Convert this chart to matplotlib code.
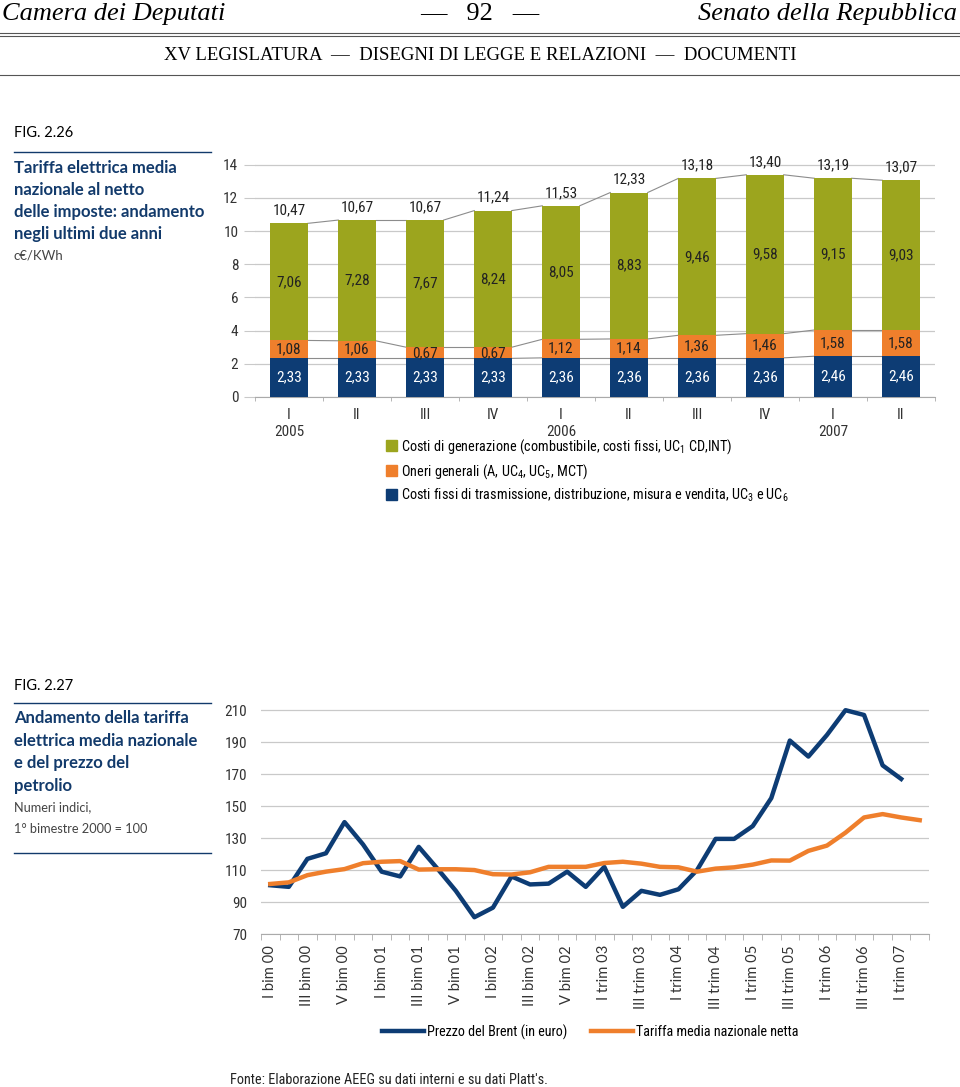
import numpy as np
import matplotlib
matplotlib.use("Agg")
import matplotlib.pyplot as plt
from matplotlib.lines import Line2D
from matplotlib.patches import Patch

# --- data: fig 2.26 (c€/KWh, stacked) ---
periods = ["I", "II", "III", "IV", "I", "II", "III", "IV", "I", "II"]
years = {0: "2005", 4: "2006", 8: "2007"}
trasmissione = [2.33, 2.33, 2.33, 2.33, 2.36, 2.36, 2.36, 2.36, 2.46, 2.46]
oneri = [1.08, 1.06, 0.67, 0.67, 1.12, 1.14, 1.36, 1.46, 1.58, 1.58]
generazione = [7.06, 7.28, 7.67, 8.24, 8.05, 8.83, 9.46, 9.58, 9.15, 9.03]
totali = [10.47, 10.67, 10.67, 11.24, 11.53, 12.33, 13.18, 13.40, 13.19, 13.07]

# --- data: fig 2.27 (numeri indici) ---
line_labels = ["I bim 00", "III bim 00", "V bim 00", "I bim 01", "III bim 01", "V bim 01",
               "I bim 02", "III bim 02", "V bim 02", "I trim 03", "III trim 03", "I trim 04",
               "III trim 04", "I trim 05", "III trim 05", "I trim 06", "III trim 06", "I trim 07"]
brent = [100.5, 99.5, 117, 120.5, 140, 126, 109, 106, 124.5, 111, 97, 80.5,
         86.5, 106, 101, 101.5, 109, 99.5, 112, 87, 97, 94.5, 98, 110,
         129.5, 129.5, 137.5, 155, 191, 181, 194.5, 210, 207, 175.5, 167]
tariffa = [101.3, 102.3, 106.8, 109, 110.6, 114.3, 115.2, 115.6, 110.3, 110.5, 110.5, 110,
           107.4, 107.2, 108.6, 112, 112, 112, 114.4, 115.2, 114, 112, 111.7, 109,
           110.9, 111.7, 113.4, 116, 115.9, 122, 125.3, 133.4, 142.9, 145, 142.9, 141.2]

GREEN = "#9ca51e"
ORANGE = "#ef7f2c"
NAVY = "#0d3c74"
TITLE = "#123a6b"
GRID = "#c9c9c9"

plt.rcParams["mathtext.default"] = "regular"
NARROW = ["Roboto Condensed", "DejaVu Sans Condensed", "Liberation Sans Narrow", "Roboto", "DejaVu Sans"]
SANS = ["Lato", "DejaVu Sans"]
SERIF = ["Liberation Serif", "DejaVu Serif"]

W, H = 960, 1087
fig = plt.figure(figsize=(W / 100, H / 100), dpi=100)


def fx(px):
    return px / W


def fy(py):
    return 1 - py / H


# ---------------- page header ----------------
fig.text(fx(2), fy(14), "Camera dei Deputati", family=SERIF, style="italic", fontsize=19, va="center")
fig.text(fx(480), fy(14), "—   92   —", family=SERIF, fontsize=19, va="center", ha="center")
fig.text(fx(957), fy(14), "Senato della Repubblica", family=SERIF, style="italic", fontsize=19,
         va="center", ha="right")
for yy in (33, 36):
    fig.add_artist(Line2D([0, 1], [fy(yy), fy(yy)], color="#555555", lw=0.8))
fig.text(fx(480), fy(56), "XV LEGISLATURA  —  DISEGNI DI LEGGE E RELAZIONI  —  DOCUMENTI",
         family=SERIF, fontsize=13.5, va="center", ha="center")
fig.add_artist(Line2D([0, 1], [fy(75), fy(75)], color="#555555", lw=0.8))

# ---------------- left column fig 2.26 ----------------
fig.text(fx(14), fy(133), "FIG. 2.26", family=SANS, fontsize=10.5, va="center")
fig.add_artist(Line2D([fx(14), fx(211)], [fy(152), fy(152)], color=TITLE, lw=1))
fig.text(fx(14), fy(160), "Tariffa elettrica media\nnazionale al netto\ndelle imposte: andamento\nnegli ultimi due anni",
         family=SANS, fontsize=12, fontweight="bold", color=TITLE, va="top", linespacing=1.45)
fig.text(fx(14), fy(256), "c€/KWh", family=SANS, fontsize=9.5, color="#444444", va="center")

# ---------------- bar chart ----------------
ax1 = fig.add_axes([fx(255), fy(397), fx(935) - fx(255), fy(164) - fy(397)])
x = np.arange(len(periods))
bw = 0.55
b1 = np.array(trasmissione)
b2 = b1 + np.array(oneri)
ax1.bar(x, trasmissione, bw, color=NAVY, zorder=3)
ax1.bar(x, oneri, bw, bottom=b1, color=ORANGE, zorder=3)
ax1.bar(x, generazione, bw, bottom=b2, color=GREEN, zorder=3)

# series lines between bar tops
for tops in (b1, b2, np.array(totali)):
    for i in range(len(x) - 1):
        ax1.plot([x[i] + bw / 2, x[i + 1] - bw / 2], [tops[i], tops[i + 1]],
                 color="#8c8c8c", lw=0.8, zorder=2)

for i in x:
    ax1.text(i, trasmissione[i] / 2, f"{trasmissione[i]:.2f}".replace(".", ","), ha="center", va="center",
             color="white", family=NARROW, fontsize=11, zorder=4)
    ax1.text(i, b1[i] + oneri[i] / 2, f"{oneri[i]:.2f}".replace(".", ","), ha="center", va="center",
             color="#222222", family=NARROW, fontsize=11, zorder=4)
    ax1.text(i, b2[i] + generazione[i] / 2, f"{generazione[i]:.2f}".replace(".", ","), ha="center", va="center",
             color="#222222", family=NARROW, fontsize=11, zorder=4)
    ax1.text(i, totali[i] + 0.35, f"{totali[i]:.2f}".replace(".", ","), ha="center", va="bottom",
             color="#222222", family=NARROW, fontsize=11, zorder=4)

ax1.set_xlim(-0.5, len(x) - 0.5)
ax1.set_ylim(0, 14.05)
ax1.set_yticks(range(0, 15, 2))
ax1.grid(axis="y", color=GRID, lw=0.9, zorder=0)
xt_labels = [p + ("\n" + years[i] if i in years else "") for i, p in enumerate(periods)]
ax1.set_xticks(x)
ax1.set_xticklabels(xt_labels, family=NARROW, fontsize=11, color="#333333", linespacing=1.25)
ax1.set_xticks(np.arange(-0.5, len(x), 1), minor=True)
ax1.tick_params(axis="x", which="major", length=0, pad=8)
ax1.tick_params(axis="x", which="minor", length=3, color="#aaaaaa")
ax1.tick_params(axis="y", length=8, color=GRID, labelsize=11, labelcolor="#333333", pad=4)
for lab in ax1.get_yticklabels():
    lab.set_family(NARROW)
for s in ("top", "right", "left"):
    ax1.spines[s].set_visible(False)
ax1.spines["bottom"].set_color("#aaaaaa")

bar_handles = [Patch(color=GREEN), Patch(color=ORANGE), Patch(color=NAVY)]
bar_texts = ["Costi di generazione (combustibile, costi fissi, UC$_1$ CD,INT)",
             "Oneri generali (A, UC$_4$, UC$_5$, MCT)",
             "Costi fissi di trasmissione, distribuzione, misura e vendita, UC$_3$ e UC$_6$"]
fig.legend(bar_handles, bar_texts, loc="upper left", bbox_to_anchor=(fx(386), fy(437)),
           frameon=False, borderpad=0, borderaxespad=0, handlelength=0.8, handleheight=0.8,
           handletextpad=0.25, labelspacing=0.42, prop={"family": NARROW, "size": 10.3})

# ---------------- left column fig 2.27 ----------------
fig.text(fx(14), fy(686), "FIG. 2.27", family=SANS, fontsize=10.5, va="center")
fig.add_artist(Line2D([fx(14), fx(211)], [fy(703), fy(703)], color=TITLE, lw=1))
fig.text(fx(14), fy(710), "Andamento della tariffa\nelettrica media nazionale\ne del prezzo del\npetrolio",
         family=SANS, fontsize=12, fontweight="bold", color=TITLE, va="top", linespacing=1.5)
fig.text(fx(14), fy(801), "Numeri indici,\n1° bimestre 2000 = 100",
         family=SANS, fontsize=9.2, color="#444444", va="top", linespacing=2.0)
fig.add_artist(Line2D([fx(14), fx(211)], [fy(853), fy(853)], color=TITLE, lw=1))

# ---------------- line chart ----------------
ax2 = fig.add_axes([fx(261), fy(934), fx(929) - fx(261), fy(707) - fy(934)])
ax2.plot(np.arange(len(brent)), brent, color=NAVY, lw=3.2, zorder=3,
         label="Prezzo del Brent (in euro)")
ax2.plot(np.arange(len(tariffa)), tariffa, color=ORANGE, lw=3.2, zorder=3,
         label="Tariffa media nazionale netta")
ax2.set_xlim(-0.5, len(tariffa) - 0.5)
ax2.set_ylim(70, 212)
ax2.set_yticks(range(70, 211, 20))
ax2.grid(axis="y", color=GRID, lw=0.9, zorder=0)
ax2.set_xticks(np.arange(0, len(tariffa), 2))
ax2.set_xticklabels(line_labels, rotation=90, family=SANS, fontsize=10.6, color="#333333")
ax2.set_xticks(np.arange(-0.5, len(tariffa), 1), minor=True)
ax2.tick_params(axis="x", which="major", length=0, pad=8)
ax2.tick_params(axis="x", which="minor", length=4, color="#aaaaaa")
ax2.tick_params(axis="y", length=0, labelsize=11, labelcolor="#333333", pad=10)
for lab in ax2.get_yticklabels():
    lab.set_family(NARROW)
for s in ("top", "right", "left"):
    ax2.spines[s].set_visible(False)
ax2.spines["bottom"].set_color("#aaaaaa")

fig.legend(loc="center", bbox_to_anchor=(fx(590), fy(1032)), ncol=2, frameon=False,
           handlelength=3.0, handletextpad=0.2, columnspacing=1.65,
           prop={"family": NARROW, "size": 10.2})

fig.text(fx(230), fy(1080), "Fonte: Elaborazione AEEG su dati interni e su dati Platt's.",
         family=NARROW, fontsize=10.3, color="#222222", va="center")

fig.savefig("out.png", dpi=100)
